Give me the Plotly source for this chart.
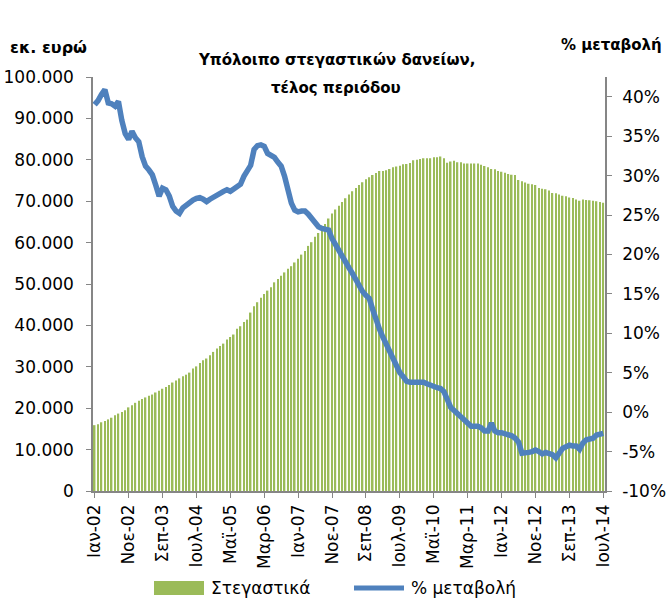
import plotly.graph_objects as go

# Monthly data, Jan-2002 .. Jul-2014 (151 months)
months_gr = ["Ιαν", "Φεβ", "Μαρ", "Απρ", "Μαϊ", "Ιουν", "Ιουλ", "Αυγ", "Σεπ", "Οκτ", "Νοε", "Δεκ"]
categories = [f"{months_gr[i % 12]}-{(2 + i // 12):02d}" for i in range(151)]

# Housing loans outstanding (million euro)
housing = [
    15900, 16100, 16600, 16900, 17300, 17700, 18300, 18700, 19100, 19500, 20200, 20700,
    21300, 21800, 22200, 22600, 23000, 23300, 23800, 24200, 24700, 25100, 25600, 26200,
    26700, 27200, 27700, 28100, 28600, 29600, 30100, 30900, 31600, 32000, 32800, 33600,
    34400, 35000, 35600, 36600, 37200, 37800, 39200, 39800, 40800, 41400, 43100, 44600,
    45600, 46700, 47600, 48400, 49200, 50400, 51200, 52000, 52800, 53700, 54300, 55200,
    56100, 57100, 58000, 59200, 60100, 61400, 62300, 63300, 64500, 65800, 67000, 68000,
    68900, 69800, 70700, 71600, 72400, 73200, 73900, 74600, 75300, 75800, 76300, 76800,
    77300, 77300, 77500, 77800, 78200, 78400, 78550, 78900, 79000, 79200, 79900, 80000,
    80200, 80400, 80400, 80400, 80600, 80600, 80800, 80400, 79300, 79600, 79800, 79400,
    79400, 79100, 79100, 79100, 79100, 79100, 78800, 78500, 78200, 77800, 77700, 77300,
    77100, 76900, 76600, 76400, 76300, 75100, 74800, 74500, 74200, 74100, 73900, 73200,
    73000, 72900, 72600, 72000, 71900, 71600, 71300, 71200, 70900, 70800, 70400, 70100,
    70400, 70300, 70200, 70100, 70000, 69800, 69600,
]

# Annual % change
pct_change = [
    39.0, 39.5, 40.3, 40.9, 39.2, 39.1, 38.8, 39.4, 37.0, 35.3, 34.6, 35.6,
    34.8, 34.3, 32.4, 31.2, 30.7, 30.1, 28.8, 27.4, 28.4, 28.2, 27.4, 26.1,
    25.5, 25.2, 25.9, 26.3, 26.6, 26.9, 27.1, 27.2, 27.0, 26.7, 27.0, 27.3,
    27.5, 27.8, 28.0, 28.2, 28.0, 28.3, 28.6, 28.9, 29.9, 30.7, 31.3, 33.3,
    33.8, 33.9, 33.7, 32.8, 32.5, 32.3, 31.7, 31.2, 29.9, 28.2, 26.5, 25.6,
    25.4, 25.5, 25.5, 25.1, 24.6, 24.0, 23.5, 23.3, 23.2, 23.1, 22.0, 21.2,
    20.5, 19.6, 18.9, 18.3, 17.6, 16.7, 15.9, 15.3, 14.8, 14.4, 13.0, 11.6,
    10.5, 9.5, 8.6, 7.6, 6.5, 5.6, 5.0, 4.5, 3.9, 3.8, 3.8, 3.7,
    3.7, 3.8, 3.6, 3.4, 3.3, 3.1, 3.0, 2.6, 1.6, 0.6, 0.2, -0.2,
    -0.6, -1.1, -1.6, -1.8, -1.8, -1.8, -2.0, -2.4, -2.4, -1.4, -2.4, -2.6,
    -2.6, -2.7, -2.8, -3.0, -3.3, -3.8, -5.2, -5.2, -5.1, -5.0, -4.8, -5.0,
    -5.3, -5.1, -5.2, -5.4, -5.8, -5.3, -4.6, -4.4, -4.2, -4.3, -4.3, -4.7,
    -3.9, -3.5, -3.4, -3.3, -2.9, -2.8, -2.7,
]

x_tick_idx = list(range(0, 151, 10))
x_tick_labels = [categories[i] for i in x_tick_idx]
y_left_ticks = [0, 10000, 20000, 30000, 40000, 50000, 60000, 70000, 80000, 90000, 100000]
y_left_labels = ["0", "10.000", "20.000", "30.000", "40.000", "50.000", "60.000",
                 "70.000", "80.000", "90.000", "100.000"]
y_right_ticks = [-10, -5, 0, 5, 10, 15, 20, 25, 30, 35, 40]
y_right_labels = ["-10%", "-5%", "0%", "5%", "10%", "15%", "20%", "25%", "30%", "35%", "40%"]

GREEN = "#9bbb59"
BLUE = "#4f81bd"
AXIS = "#868686"
FONT = "DejaVu Sans"

xs = list(range(len(categories)))

fig = go.Figure()
fig.add_trace(go.Bar(x=xs, y=housing, name="Στεγαστικά", marker_color=GREEN,
                     marker_line_width=0, yaxis="y", showlegend=False))
fig.add_trace(go.Scatter(x=xs, y=pct_change, name="% μεταβολή", mode="lines",
                         line=dict(color=BLUE, width=5.5), yaxis="y2", showlegend=False))

W, H = 668, 601
L, R, T, B = 93, 605, 77, 491


def px(x):
    return (x - L) / (R - L)


def py(y):
    return (B - y) / (B - T)


fig.update_layout(
    width=W, height=H,
    margin=dict(l=L, r=W - R, t=T, b=H - B, autoexpand=False),
    paper_bgcolor="white", plot_bgcolor="white",
    bargap=0.55,
    font=dict(family=FONT, size=17, color="black"),
    xaxis=dict(range=[-0.5, 150.5], tickmode="array", tickvals=x_tick_idx,
               ticktext=x_tick_labels, tickangle=-90, showgrid=False, zeroline=False,
               showline=True, linecolor=AXIS, linewidth=1.5, automargin=False,
               ticks="outside", ticklen=5, tickcolor=AXIS,
               tickfont=dict(family=FONT, size=17, color="black")),
    yaxis=dict(range=[0, 100000], tickmode="array", tickvals=y_left_ticks,
               ticktext=y_left_labels, showgrid=False, zeroline=False,
               showline=True, linecolor=AXIS, linewidth=1.5, automargin=False,
               ticks="outside", ticklen=5, tickcolor=AXIS, ticklabelstandoff=9,
               tickfont=dict(family=FONT, size=17, color="black")),
    yaxis2=dict(range=[-10, 42.5], overlaying="y", side="right", tickmode="array",
                tickvals=y_right_ticks, ticktext=y_right_labels, showgrid=False,
                zeroline=False, showline=True, linecolor=AXIS, linewidth=1.5,
                automargin=False,
                ticks="outside", ticklen=5, tickcolor=AXIS, ticklabelstandoff=7,
                tickfont=dict(family=FONT, size=17, color="black")),
)

annots = [
    dict(text="<b>Υπόλοιπο στεγαστικών δανείων,</b>", x=px(336), y=py(60), size=15),
    dict(text="<b>τέλος περιόδου</b>", x=px(336), y=py(88), size=15),
    dict(text="<b>εκ. ευρώ</b>", x=px(48), y=py(48), size=16),
    dict(text="<b>% μεταβολή</b>", x=px(611), y=py(45), size=15),
]
for a in annots:
    fig.add_annotation(xref="paper", yref="paper", showarrow=False,
                       xanchor="center", yanchor="middle", text=a["text"], x=a["x"], y=a["y"],
                       font=dict(family=FONT, size=a["size"], color="black"))

# legend
fig.add_shape(type="rect", xref="paper", yref="paper", x0=px(154), x1=px(204),
              y0=py(595), y1=py(581), fillcolor=GREEN, line_width=0)
fig.add_shape(type="line", xref="paper", yref="paper", x0=px(354), x1=px(404),
              y0=py(588), y1=py(588), line=dict(color=BLUE, width=5))
fig.add_annotation(xref="paper", yref="paper", showarrow=False, x=px(209), y=py(588),
                   xanchor="left", yanchor="middle", text="Στεγαστικά",
                   font=dict(family=FONT, size=17, color="black"))
fig.add_annotation(xref="paper", yref="paper", showarrow=False, x=px(409), y=py(588),
                   xanchor="left", yanchor="middle", text="% μεταβολή",
                   font=dict(family=FONT, size=17, color="black"))

fig.write_html("out.html", config={"displayModeBar": False},
               post_script="document.body.style.margin='0px';document.body.style.padding='0px';")
